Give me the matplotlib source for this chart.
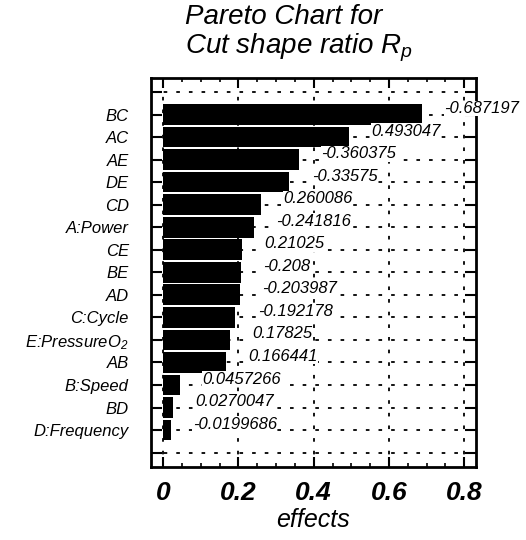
import numpy as np
import matplotlib
matplotlib.use('Agg')
from matplotlib import pyplot as plt
from matplotlib.ticker import MultipleLocator

plt.rcParams['font.family'] = ['Liberation Sans', 'DejaVu Sans']
plt.rcParams['mathtext.fontset'] = 'custom'
plt.rcParams['mathtext.rm'] = 'Liberation Sans:italic'
plt.rcParams['mathtext.it'] = 'Liberation Sans:italic'
plt.rcParams['mathtext.bf'] = 'Liberation Sans:bold:italic'

terms = ['BC', 'AC', 'AE', 'DE', 'CD', 'A:Power', 'CE', 'BE', 'AD', 'C:Cycle',
         'E:PressureO$_2$', 'AB', 'B:Speed', 'BD', 'D:Frequency']
effects = [-0.687197, 0.493047, -0.360375, -0.33575, 0.260086, -0.241816, 0.21025,
           -0.208, -0.203987, -0.192178, 0.17825, 0.166441, 0.0457266, 0.0270047,
           -0.0199686]
effect_labels = ['-0.687197', '0.493047', '-0.360375', '-0.33575', '0.260086',
                 '-0.241816', '0.21025', '-0.208', '-0.203987', '-0.192178',
                 '0.17825', '0.166441', '0.0457266', '0.0270047', '-0.0199686']

fig = plt.figure(figsize=(5.26, 5.40), dpi=100)
ax = fig.add_axes([151 / 526, 73 / 540, 325 / 526, 389 / 540])

pos = np.arange(len(terms))
ax.barh(pos, np.abs(effects), height=0.92, color='black', zorder=3)

for p, v, lab in zip(pos, effects, effect_labels):
    ax.annotate(lab, xy=(abs(v), p), xytext=(16, 1), textcoords='offset points',
                va='baseline', ha='left', fontsize=12, style='italic', zorder=5,
                bbox=dict(facecolor='white', edgecolor='none', pad=0.3))

ax.set_xlim(-0.032, 0.831)
ax.set_ylim(len(terms) - 1 + 1.64, -1.62)

ax.set_yticks(np.arange(-1, len(terms) + 1))
ax.set_yticklabels([''] + terms + [''], fontsize=12, style='italic')
ax.set_xticks([0, 0.2, 0.4, 0.6, 0.8])
ax.set_xticklabels(['0', '0.2', '0.4', '0.6', '0.8'], fontsize=19,
                   style='italic', weight='bold')
ax.xaxis.set_minor_locator(MultipleLocator(0.05))

ax.tick_params(axis='y', direction='in', length=8, width=1.5, pad=16,
               left=True, right=True)
ax.tick_params(axis='x', which='major', direction='in', length=7, width=1.5,
               pad=10, top=True, bottom=True)
ax.tick_params(axis='x', which='minor', direction='in', length=3, width=1.2,
               top=True, bottom=True)

ax.grid(True, which='major', color='black', linestyle=(0, (2, 5)), linewidth=1.3,
        zorder=1)
for s in ax.spines.values():
    s.set_linewidth(2)

ax.set_xlabel('effects', fontsize=18, style='italic', labelpad=2)

fig.text(185 / 526, 1 - 4 / 540, 'Pareto Chart for\nCut shape ratio $R_p$',
         ha='left', va='top', fontsize=20, style='italic', linespacing=1.1)

fig.savefig('out.png', dpi=100)
